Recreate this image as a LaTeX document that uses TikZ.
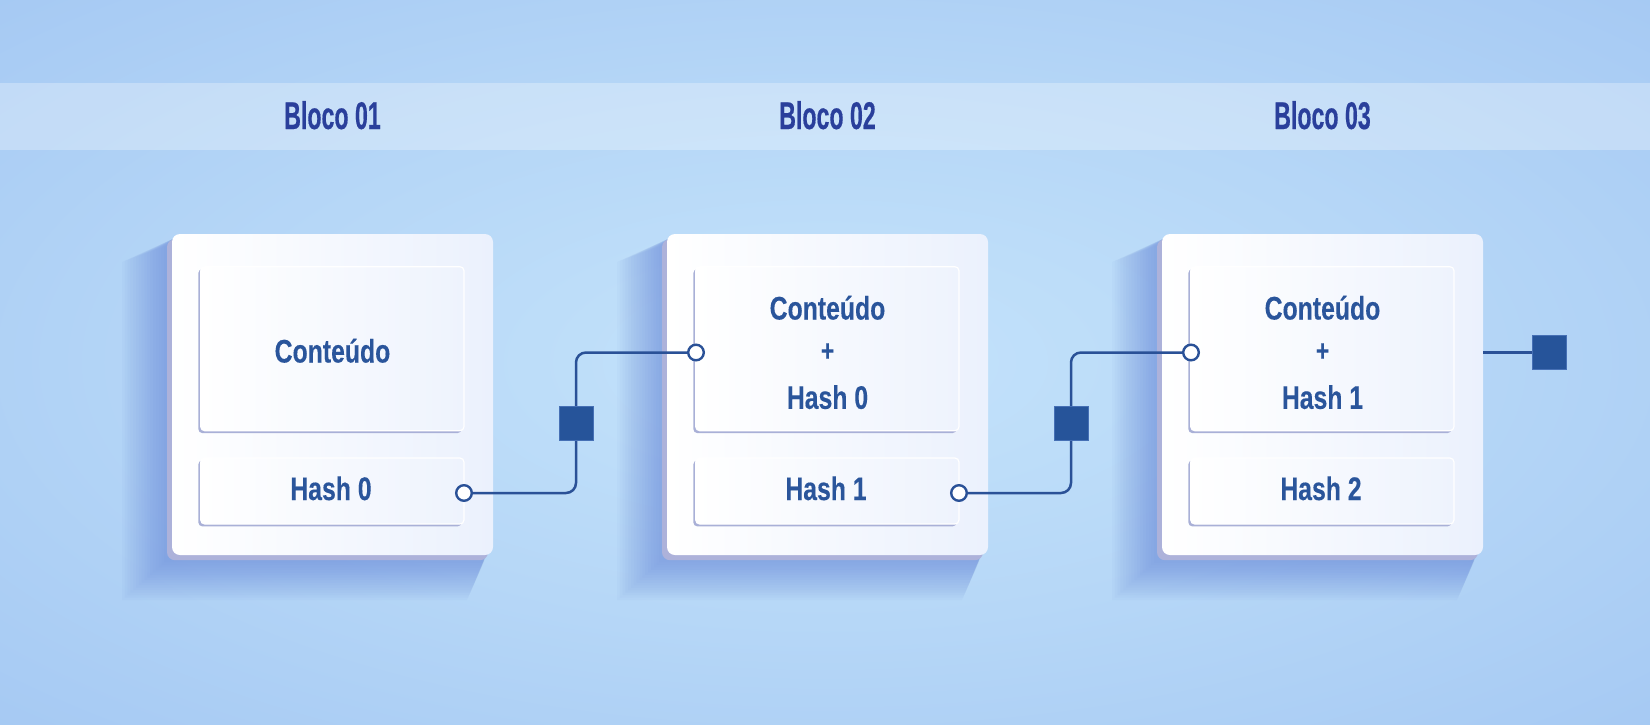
\documentclass[tikz,border=0pt]{standalone}
\usepackage{fontspec}
\usetikzlibrary{shadows}
\newfontfamily\headfont[FakeStretch=0.6,FakeBold=0.4]{Liberation Sans}
\newfontfamily\bodyfont[FakeStretch=0.76,FakeBold=0.2]{Liberation Sans}
\definecolor{bgC}{HTML}{C4E3FB}
\definecolor{bgM}{HTML}{B6D7F7}
\definecolor{bgE}{HTML}{A2C6F2}
\definecolor{headc}{HTML}{2A3F9B}
\definecolor{bodyc}{HTML}{2A559B}
\definecolor{linec}{HTML}{2A5197}
\definecolor{sqc}{HTML}{26549A}
\definecolor{sqedge}{HTML}{4670B5}
\definecolor{sidec}{HTML}{ADB2DA}
\definecolor{edgec}{HTML}{A9B0D7}
\definecolor{cardR}{HTML}{EBF1FD}
\definecolor{innerR}{HTML}{EEF3FD}
\definecolor{shadowc}{HTML}{5B7CD6}
\pgfdeclareradialshading{bgshade}{\pgfpoint{0bp}{0bp}}{color(0bp)=(bgC); color(18bp)=(bgM); color(40bp)=(bgE); color(72bp)=(bgE)}
\begin{document}
\begin{tikzpicture}[x=0.5pt,y=-0.5pt,
  headtxt/.style={font=\headfont\bfseries\fontsize{19.3}{22}\selectfont, text=headc, inner sep=0pt, anchor=base},
  btxt/.style={font=\bodyfont\bfseries\fontsize{16.3}{19}\selectfont, text=bodyc, inner sep=0pt, anchor=base},
  plustxt/.style={font=\bodyfont\bfseries\fontsize{15}{17}\selectfont, text=bodyc, inner sep=0pt, anchor=base},
  card/.style={rectangle, rounded corners=4pt, minimum width=160.5pt, minimum height=160.5pt, inner sep=0pt,
     left color=white, right color=cardR,
     general shadow={shadow xshift=-2.5pt, shadow yshift=-2.6pt, fill=sidec}},
  inbox/.style={rectangle, rounded corners=2pt, minimum width=131.6pt, inner sep=0pt,
     left color=white, right color=innerR, draw=white, line width=0.6pt,
     general shadow={shadow xshift=-1.2pt, shadow yshift=-1.2pt, fill=edgec}},
  conn/.style={draw=linec, line width=1.25pt, rounded corners=5pt},
  port/.style={circle, draw=linec, fill=white, line width=1.2pt, minimum size=7.8pt, inner sep=0pt},
  sqnode/.style={rectangle, fill=sqc, draw=sqedge, line width=0.4pt, minimum size=17pt, inner sep=0pt}
]
\useasboundingbox (0,0) rectangle (1650,724);
\shade[shading=bgshade] (0,0) rectangle (1650,724);
\fill[white, opacity=0.29] (0,83) rectangle (1650,150);

% headers
\node[headtxt] (h1) at (332.5,129) {Bloco 01};
\node[headtxt] (h2) at (827.5,129) {Bloco 02};
\node[headtxt] (h3) at (1322.5,129) {Bloco 03};

% cast shadows
\foreach \ox in {0,495,990}{
  \foreach \k in {1,...,16}{
    \fill[shadowc, opacity=0.04] (175+\ox,238) -- ({167+\ox-45*\k/16},{246+16*\k/16}) -- ({167+\ox-45*\k/16},{560+40*\k/16}) -- ({485+\ox-18*\k/16},{560+40*\k/16}) -- (487+\ox,552) -- cycle;
  }
}

% cards
\node[card] (b1) at (332.5,394.5) {};
\node[card] (b2) at (827.5,394.5) {};
\node[card] (b3) at (1322.5,394.5) {};

% inner boxes
\node[inbox, minimum height=82pt] (b1c) at (332.35,348.7) {};
\node[inbox, minimum height=33pt] (b1h) at (332.35,491) {};
\node[inbox, minimum height=82pt] (b2c) at (827.35,348.7) {};
\node[inbox, minimum height=33pt] (b2h) at (827.35,491) {};
\node[inbox, minimum height=82pt] (b3c) at (1322.35,348.7) {};
\node[inbox, minimum height=33pt] (b3h) at (1322.35,491) {};

% connector points
\coordinate (p1) at (464,493);
\coordinate (p2) at (696,352.5);
\coordinate (p3) at (959,493);
\coordinate (p4) at (1191,352.5);
\coordinate (e3) at (1483,352.5);
\coordinate (q1) at (576,423);
\coordinate (q2) at (1071,423);
\coordinate (q3) at (1549,352.5);

\draw[conn] (p1) -| (q1) |- (p2);
\draw[conn] (p3) -| (q2) |- (p4);
\draw[conn] (e3) -- (q3);

\node[port] (c1) at (p1) {};
\node[port] (c2) at (p2) {};
\node[port] (c3) at (p3) {};
\node[port] (c4) at (p4) {};
\node[sqnode] (s1) at (q1) {};
\node[sqnode] (s2) at (q2) {};
\node[sqnode] (s3) at (q3) {};

% texts
\node[btxt] (t1a) at (332.5,362.5) {Conteúdo};
\node[btxt] (t1b) at (331,500) {Hash 0};

\node[btxt] (t2a) at (827.5,319.5) {Conteúdo};
\node[plustxt] (t2p) at (827.5,361) {+};
\node[btxt] (t2b) at (827.5,408.8) {Hash 0};
\node[btxt] (t2c) at (826,500) {Hash 1};

\node[btxt] (t3a) at (1322.5,319.5) {Conteúdo};
\node[plustxt] (t3p) at (1322.5,361) {+};
\node[btxt] (t3b) at (1322.5,408.8) {Hash 1};
\node[btxt] (t3c) at (1321,500) {Hash 2};
\end{tikzpicture}
\end{document}
